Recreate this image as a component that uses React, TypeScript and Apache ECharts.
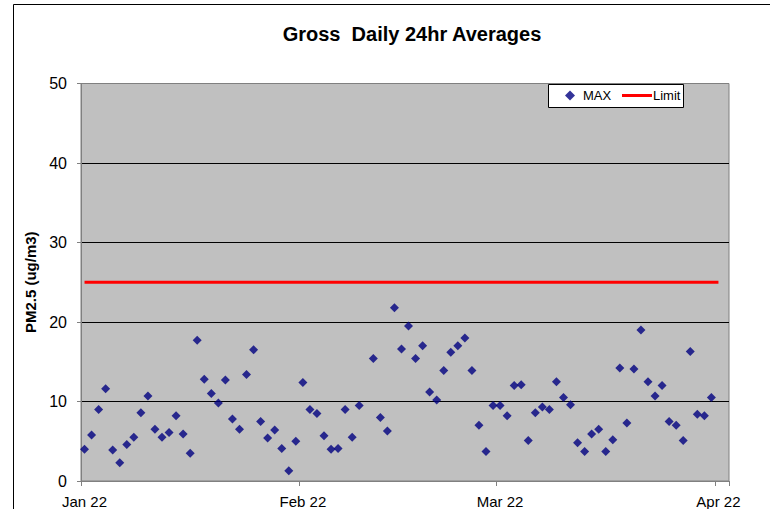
import React, { useEffect, useRef } from "react";
import * as echarts from "echarts";

const MONTHS = ["Jan", "Feb", "Mar", "Apr", "May", "Jun", "Jul", "Aug", "Sep", "Oct", "Nov", "Dec"];

// Daily categories, 2022-01-01 .. 2022-04-02
const DAY_COUNT = 92;
const days: string[] = [];
{
  const t0 = Date.UTC(2022, 0, 1);
  for (let i = 0; i < DAY_COUNT; i++) {
    days.push(new Date(t0 + i * 86400000).toISOString().slice(0, 10));
  }
}

// MAX daily 24hr averages, starting at 2022-01-01 (null = missing day)
const maxValues: (number | null)[] = [
  4.0, 5.8, 9.0, 11.6, 3.9, 2.3, 4.6, 5.5, 8.6, 10.7,
  6.5, 5.5, 6.1, 8.2, 5.9, 3.5, 17.7, 12.8, 11.0, 9.8,
  12.7, 7.8, 6.5, 13.4, 16.5, 7.5, 5.4, 6.4, 4.1, 1.3,
  5.0, 12.4, 9.0, 8.5, 5.7, 4.0, 4.1, 9.0, 5.5, 9.5,
  null, 15.4, 8.0, 6.3, 21.8, 16.6, 19.5, 15.4, 17.0, 11.2,
  10.2, 13.9, 16.2, 17.0, 18.0, 13.9, 7.0, 3.7, 9.5, 9.5,
  8.2, 12.0, 12.1, 5.1, 8.6, 9.3, 9.0, 12.5, 10.5, 9.6,
  4.8, 3.7, 5.9, 6.5, 3.7, 5.2, 14.2, 7.3, 14.1, 19.0,
  12.5, 10.7, 12.0, 7.5, 7.0, 5.1, 16.3, 8.4, 8.2, 10.5,
];

const LIMIT_VALUE = 25;
const limitStart = "2022-01-01";
const limitEnd = "2022-04-01";
const limitData: [string, number][] = [
  [limitStart, LIMIT_VALUE],
  [limitEnd, LIMIT_VALUE],
];

const yTicks = [0, 10, 20, 30, 40, 50];

const FONT = "Liberation Sans, Arial, sans-serif";

const isMonthStart = (_i: number, v: string) => v.endsWith("-01");

export default function App() {
  const ref = useRef<HTMLDivElement>(null);

  useEffect(() => {
    if (!ref.current) return;
    const chart = echarts.init(ref.current, undefined, { renderer: "svg" });
    const maxData = maxValues.map((v, i) => [days[i], v]);
    chart.setOption({
      animation: false,
      backgroundColor: "#ffffff",
      textStyle: { fontFamily: FONT, color: "#000" },
      title: {
        text: "Gross  Daily 24hr Averages",
        left: 407,
        top: 19,
        textAlign: "center",
        textStyle: { fontFamily: FONT, fontSize: 20, fontWeight: "bold", color: "#000" },
      },
      graphic: [
        {
          type: "rect",
          shape: { x: 13.5, y: 4.5, width: 800, height: 600 },
          style: { fill: "none", stroke: "#000", lineWidth: 1 },
          silent: true,
          z: 100,
        },
        {
          type: "rect",
          shape: { x: 548.5, y: 84.5, width: 135, height: 23 },
          style: { fill: "#ffffff", stroke: "#000", lineWidth: 1 },
          silent: true,
          z: 5,
        },
      ],
      legend: [
        {
          left: 565,
          top: 89,
          padding: 0,
          itemWidth: 10,
          itemHeight: 10,
          z: 10,
          textStyle: { fontFamily: FONT, fontSize: 13, color: "#000", padding: [0, 0, 0, 3] },
          data: [{ name: "MAX", icon: "diamond" }],
        },
        {
          left: 622,
          top: 89,
          padding: 0,
          itemWidth: 30,
          itemHeight: 3,
          z: 10,
          textStyle: { fontFamily: FONT, fontSize: 13, color: "#000", padding: [0, 0, 0, -4] },
          data: [{ name: "Limit", icon: "rect" }],
        },
      ],
      grid: {
        left: 81,
        top: 83.5,
        right: 41,
        bottom: 26,
        show: true,
        backgroundColor: "#C0C0C0",
        borderColor: "#808080",
        borderWidth: 1,
      },
      xAxis: {
        type: "category",
        data: days,
        boundaryGap: true,
        axisLine: { lineStyle: { color: "#808080", width: 1 } },
        axisTick: {
          show: true,
          interval: isMonthStart,
          length: 5,
          lineStyle: { color: "#808080" },
        },
        axisLabel: {
          interval: isMonthStart,
          fontFamily: FONT,
          fontSize: 15,
          color: "#000",
          margin: 13,
          formatter: (v: string) => {
            const m = parseInt(v.slice(5, 7), 10) - 1;
            return `${MONTHS[m]} ${v.slice(2, 4)}`;
          },
        },
        splitLine: { show: false },
      },
      yAxis: {
        type: "value",
        min: yTicks[0],
        max: yTicks[yTicks.length - 1],
        interval: 10,
        name: "PM2.5 (ug/m3)",
        nameLocation: "middle",
        nameGap: 43,
        nameTextStyle: { fontFamily: FONT, fontSize: 15, fontWeight: "bold", color: "#000" },
        axisLine: { show: true, lineStyle: { color: "#808080", width: 1 } },
        axisTick: { show: true, length: 4, lineStyle: { color: "#808080" } },
        axisLabel: { fontFamily: FONT, fontSize: 16, color: "#000", margin: 14 },
        splitLine: {
          show: true,
          lineStyle: { color: ["#808080", "#000", "#000", "#000", "#000", "#808080"], width: 1 },
        },
      },
      series: [
        {
          name: "MAX",
          type: "scatter",
          data: maxData,
          symbol: "diamond",
          symbolSize: 9,
          itemStyle: { color: "#000080" },
          z: 3,
        },
        {
          name: "Limit",
          type: "line",
          data: limitData,
          showSymbol: false,
          symbol: "none",
          lineStyle: { color: "#ff0000", width: 3 },
          itemStyle: { color: "#ff0000" },
          z: 2,
        },
      ],
    });
    return () => chart.dispose();
  }, []);

  return (
    <div
      ref={ref}
      style={{ position: "fixed", left: 0, top: 0, width: 770, height: 509 }}
    />
  );
}
